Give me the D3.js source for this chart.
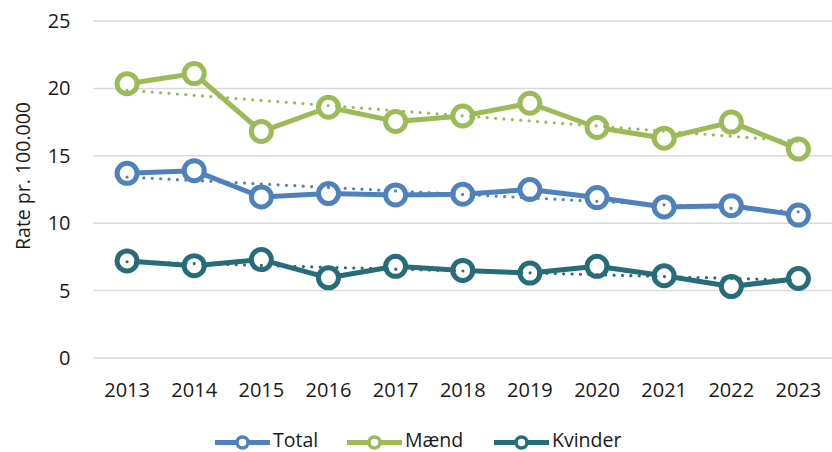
<!DOCTYPE html>
<html>
<head>
<meta charset="utf-8">
<script src="https://cdn.jsdelivr.net/npm/d3@7"></script>
<style>
  html, body { margin: 0; padding: 0; background: #fff; }
  svg { display: block; font-family: "Open Sans", "Noto Sans", sans-serif; }
</style>
</head>
<body>
<svg id="chart" width="832" height="452"></svg>
<script>
const years = ["2013","2014","2015","2016","2017","2018","2019","2020","2021","2022","2023"];
const total   = [13.7, 13.9, 11.95, 12.2, 12.1, 12.15, 12.5, 11.9, 11.2, 11.3, 10.6];
const maend   = [20.35, 21.1, 16.8, 18.6, 17.55, 17.95, 18.9, 17.1, 16.3, 17.5, 15.5];
const kvinder = [7.2, 6.85, 7.3, 5.95, 6.8, 6.5, 6.3, 6.8, 6.1, 5.3, 5.9];
const yTicks  = [0, 5, 10, 15, 20, 25];
const seriesNames = ["Total", "Mænd", "Kvinder"];
const seriesColors = ["#4F81BD", "#9BBB59", "#266C7A"];

const series = [
  { name: seriesNames[0], values: total,   color: seriesColors[0] },
  { name: seriesNames[1], values: maend,   color: seriesColors[1] },
  { name: seriesNames[2], values: kvinder, color: seriesColors[2] }
];

const textColor = "#1a1a1a";
const svg = d3.select("#chart");
const plot = { left: 93.5, right: 832, top: 21, bottom: 358 };

const x = d3.scaleBand().domain(years).range([plot.left, plot.right]).padding(0);
const cx = d => x(d) + x.bandwidth() / 2;
const y = d3.scaleLinear().domain([0, 25]).range([plot.bottom, plot.top]);

// gridlines
svg.append("g").selectAll("line").data(yTicks).join("line")
  .attr("x1", plot.left).attr("x2", plot.right)
  .attr("y1", d => y(d)).attr("y2", d => y(d))
  .attr("stroke", "#D9D9D9").attr("stroke-width", 1.5);

// y axis labels
const yAxis = d3.axisLeft(y).tickValues(yTicks).tickSize(0).tickPadding(0);
const gy = svg.append("g").attr("transform", `translate(${plot.left - 23},0)`).call(yAxis);
gy.select(".domain").remove();
gy.selectAll("text").attr("font-size", 20).attr("fill", textColor)
  .attr("font-family", "'Open Sans', sans-serif");

// x axis labels
const xAxis = d3.axisBottom(x).tickSize(0).tickPadding(0);
const gx = svg.append("g").attr("transform", `translate(0,397)`).call(xAxis);
gx.select(".domain").remove();
gx.selectAll("text").attr("font-size", 20).attr("fill", textColor)
  .attr("y", 0).attr("dy", 0)
  .attr("font-family", "'Open Sans', sans-serif");

// y axis title
svg.append("text")
  .attr("transform", `translate(30,176) rotate(-90)`)
  .attr("text-anchor", "middle")
  .attr("font-size", 19.5).attr("fill", textColor)
  .text("Rate pr. 100.000");

// series lines
const line = d3.line().x((d, i) => cx(years[i])).y(d => y(d));
series.forEach(s => {
  svg.append("path").datum(s.values)
    .attr("d", line)
    .attr("fill", "none").attr("stroke", s.color)
    .attr("stroke-width", 5).attr("stroke-linejoin", "round");
});
// markers
series.forEach(s => {
  svg.append("g").selectAll("circle").data(s.values).join("circle")
    .attr("cx", (d, i) => cx(years[i])).attr("cy", d => y(d))
    .attr("r", 10).attr("fill", "#fff")
    .attr("stroke", s.color).attr("stroke-width", 5);
});

// linear trendlines (least squares on the series values)
series.forEach(s => {
  const n = s.values.length;
  const xs = d3.range(n);
  const mx = d3.mean(xs), my = d3.mean(s.values);
  const sxy = d3.sum(xs, i => (i - mx) * (s.values[i] - my));
  const sxx = d3.sum(xs, i => (i - mx) * (i - mx));
  const b = sxy / sxx, a = my - b * mx;
  svg.append("line")
    .attr("x1", cx(years[0])).attr("y1", y(a))
    .attr("x2", cx(years[n - 1])).attr("y2", y(a + b * (n - 1)))
    .attr("stroke", s.color).attr("stroke-width", 3.2)
    .attr("stroke-linecap", "round").attr("stroke-dasharray", "0 8.4");
});

// legend
const legendItems = [
  { x: 215, s: series[0] },
  { x: 347, s: series[1] },
  { x: 494, s: series[2] }
];
const ly = 442.5;
const lg = svg.append("g");
legendItems.forEach(it => {
  const g = lg.append("g");
  g.append("line").attr("x1", it.x).attr("x2", it.x + 55)
    .attr("y1", ly).attr("y2", ly)
    .attr("stroke", it.s.color).attr("stroke-width", 5);
  g.append("circle").attr("cx", it.x + 27.5).attr("cy", ly).attr("r", 5.5)
    .attr("fill", "#fff").attr("stroke", it.s.color).attr("stroke-width", 3.5);
  g.append("text").attr("x", it.x + 58).attr("y", 446.5)
    .attr("font-size", 19.5).attr("fill", textColor).text(it.s.name);
});
</script>
</body>
</html>
